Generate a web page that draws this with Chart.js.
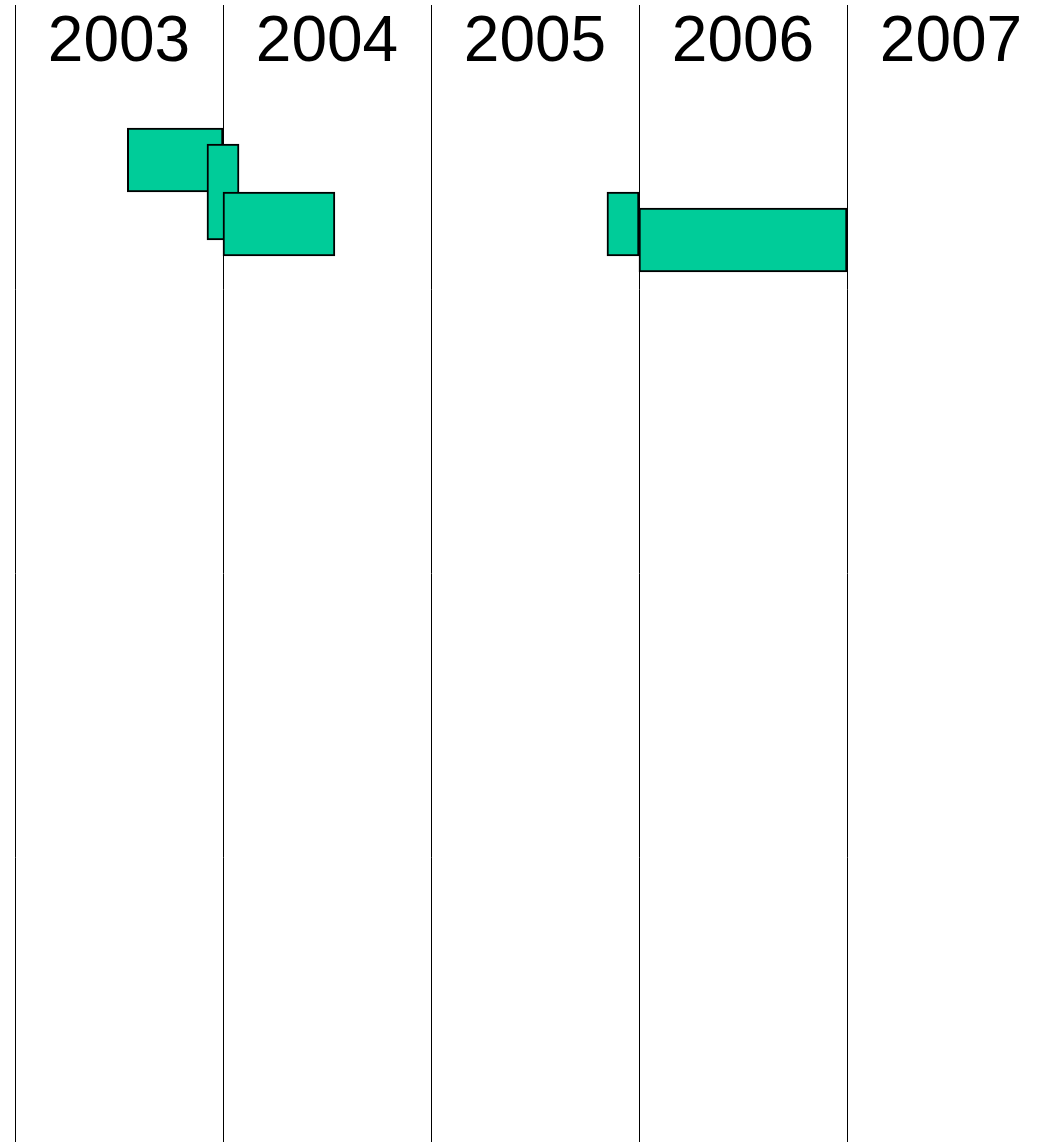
<!DOCTYPE html>
<html>
<head>
<meta charset="utf-8">
<title>Timeline 2003-2007</title>
<script src="https://cdn.jsdelivr.net/npm/chart.js@4.4.1/dist/chart.umd.min.js"></script>
<style>
  html, body { margin: 0; padding: 0; background: #fff; overflow: hidden; }
  canvas { display: block; }
</style>
</head>
<body>
<canvas id="timelineChart" width="1055" height="1142"></canvas>
<script>
// Year columns shown along the top
const years = ['2003', '2004', '2005', '2006', '2007'];

// Each task: start / end in decimal years, and the row (lane) it sits on
const taskStarts = [2003.54, 2003.923, 2004.0, 2005.846, 2006.0];
const taskEnds = [2004.0, 2004.077, 2004.538, 2006.0, 2007.0];
const taskRows = [10, 12, 14, 14, 15];

// Bar heights in pixels (the second task is taller)
const barHeights = [64, 96, 64, 64, 64];

// one dataset per task so the later ones are drawn on top of the earlier ones
const datasets = taskStarts.map(function(start, i) {
    return {
        label: 'Task ' + (i + 1),
        data: [{ x: [start, taskEnds[i]], y: taskRows[i] }],
        backgroundColor: '#00CC99',
        borderColor: '#000000',
        borderWidth: 2,
        borderSkipped: false,
        barThickness: barHeights[i],
        grouped: false,
        order: taskStarts.length - i,
        xAxisID: 'x',
        yAxisID: 'y'
    };
});

const config = {
    type: 'bar',
    data: { datasets: datasets },
    options: {
        indexAxis: 'y',
        responsive: false,
        animation: false,
        layout: {
            padding: { left: 15, right: 0, top: 5, bottom: 0 }
        },
        scales: {
            x: {
                type: 'linear',
                display: false,
                min: 2003,
                max: 2008
            },
            // category axis only for the year labels and the column lines
            x2: {
                type: 'category',
                labels: years,
                position: 'top',
                offset: true,
                border: { display: false },
                grid: {
                    offset: true,
                    color: '#000000',
                    lineWidth: 1,
                    drawTicks: false
                },
                ticks: {
                    mirror: true,
                    padding: 0,
                    color: '#000000',
                    font: { family: "'Liberation Sans', Arial, sans-serif", size: 64 }
                }
            },
            // rows: one unit = 16px, counted from the top of the page
            y: {
                type: 'linear',
                display: false,
                reverse: true,
                offset: false,
                grid: { offset: false },
                min: 5 / 16,
                max: 1142 / 16
            }
        },
        plugins: {
            legend: { display: false },
            tooltip: { enabled: false }
        }
    }
};

window.onload = function() {
    const ctx = document.getElementById('timelineChart').getContext('2d');
    new Chart(ctx, config);
};
</script>
</body>
</html>
